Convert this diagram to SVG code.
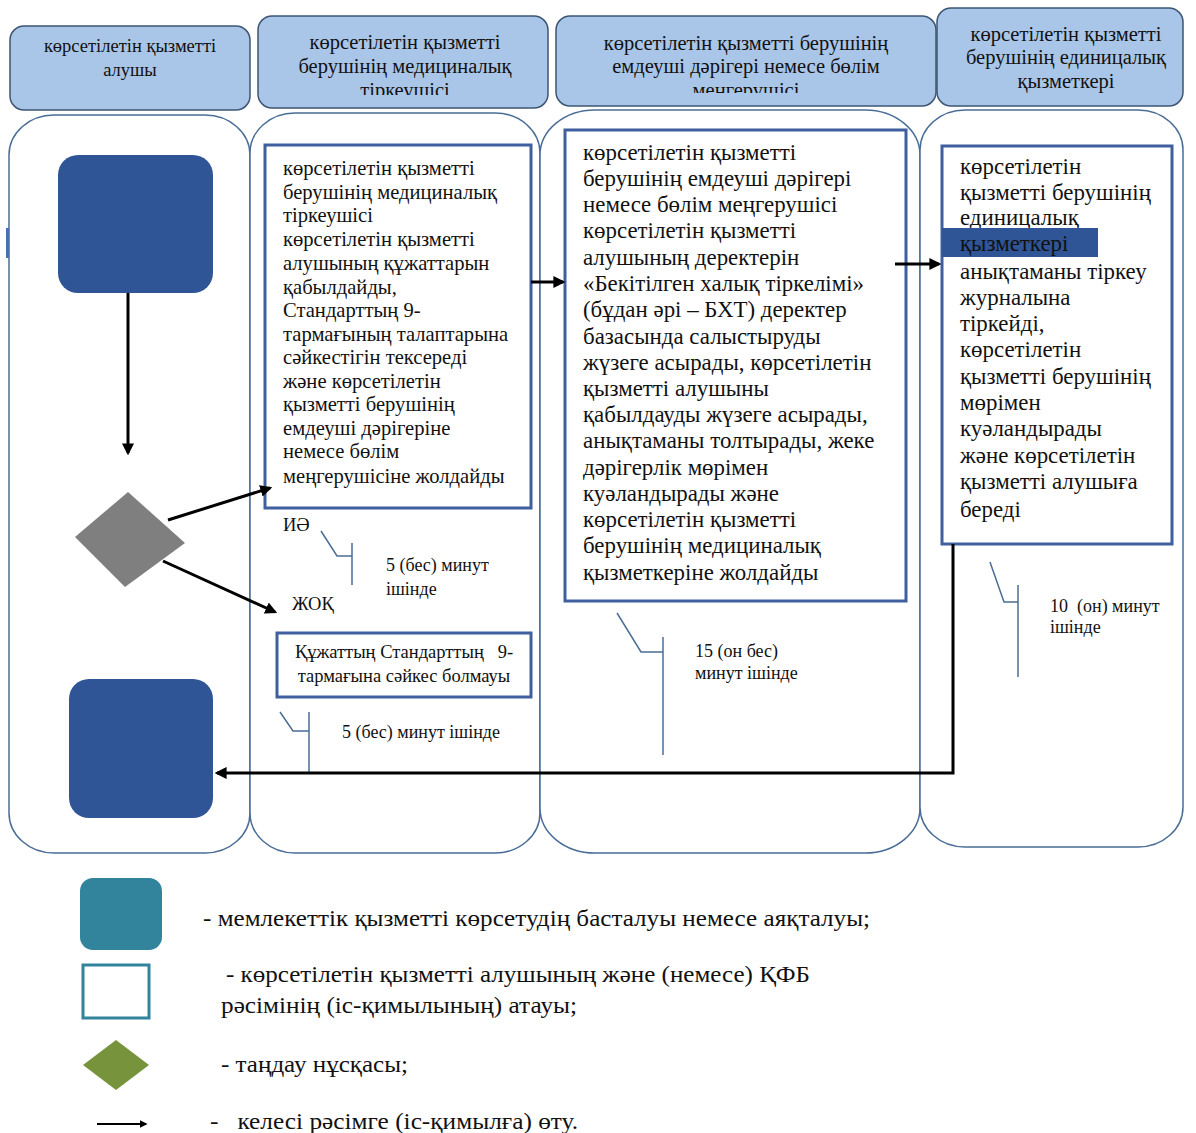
<svg xmlns="http://www.w3.org/2000/svg" width="1196" height="1133" viewBox="0 0 1196 1133">
<style>
  text { font-family: "Liberation Serif", "Times New Roman", serif; fill: #111; }
  .hdr { fill: #a9c6e8; stroke: #3d5573; stroke-width: 1.5; }
  .hdrt { font-size: 20.5px; text-anchor: middle; }
  .hdrt1 { font-size: 18.5px; text-anchor: middle; }
  .lane { fill: #fff; stroke: #4a6d96; stroke-width: 1.5; }
  .term { fill: #2f5597; }
  .box { fill: #fff; stroke: #3f5f9f; stroke-width: 3; }
  .ta { font-size: 20.6px; }
  .tb { font-size: 22.9px; }
  .tc { font-size: 22.9px; }
  .small { font-size: 18px; }
  .mid { font-size: 18.5px; }
  .call { fill: none; stroke: #4a6d96; stroke-width: 1.5; }
  .conn { fill: none; stroke: #000; stroke-width: 3; }
  .leg { font-size: 22.5px; }
</style>
<defs>
  <marker id="ah" markerWidth="4" markerHeight="4" refX="3.2" refY="2" orient="auto" markerUnits="strokeWidth">
    <path d="M0,0 L4,2 L0,4 Z" fill="#000"/>
  </marker>
  <clipPath id="c2"><rect x="258" y="16" width="290" height="79"/></clipPath>
  <clipPath id="c3"><rect x="556" y="16" width="380" height="77"/></clipPath>
</defs>

<!-- lanes -->
<g id="lanes">
  <rect class="lane" x="9" y="115" width="241" height="738" rx="45" ry="40"/>
  <rect class="lane" x="250" y="113" width="290" height="740" rx="45" ry="40"/>
  <rect class="lane" x="540" y="110" width="380" height="743" rx="55" ry="45"/>
  <rect class="lane" x="920" y="110" width="263" height="737" rx="45" ry="40"/>
  <rect x="6" y="228" width="3" height="30" fill="#4a6fb0"/>
</g>

<!-- headers -->
<g id="header1">
  <rect class="hdr" x="10" y="26" width="240" height="84" rx="14"/>
  <text class="hdrt1" x="130" y="52">көрсетілетін қызметті</text>
  <text class="hdrt1" x="130" y="76">алушы</text>
</g>
<g id="header2">
  <rect class="hdr" x="258" y="16" width="290" height="92" rx="14"/>
  <g clip-path="url(#c2)">
    <text class="hdrt" x="405" y="49">көрсетілетін қызметті</text>
    <text class="hdrt" x="405" y="73">берушінің медициналық</text>
    <text class="hdrt" x="405" y="97">тіркеушісі</text>
  </g>
</g>
<g id="header3">
  <rect class="hdr" x="556" y="16" width="380" height="90" rx="14"/>
  <g clip-path="url(#c3)">
    <text class="hdrt" x="746" y="50">көрсетілетін қызметті берушінің</text>
    <text class="hdrt" x="746" y="73">емдеуші дәрігері немесе бөлім</text>
    <text class="hdrt" x="746" y="97">меңгерушісі</text>
  </g>
</g>
<g id="header4">
  <rect class="hdr" x="937" y="8" width="246" height="98" rx="14"/>
  <text class="hdrt" x="1066" y="41">көрсетілетін қызметті</text>
  <text class="hdrt" x="1066" y="64">берушінің единицалық</text>
  <text class="hdrt" x="1066" y="88">қызметкері</text>
</g>

<!-- nodes -->
<g id="start">
  <rect class="term" x="58" y="155" width="155" height="138" rx="20"/>
</g>
<g id="decision">
  <polygon points="128,492 185,543 125,587 75,537" fill="#7f7f7f"/>
</g>
<g id="end">
  <rect class="term" x="69" y="679" width="144" height="139" rx="20"/>
</g>

<g id="boxA">
  <rect class="box" x="265" y="145" width="266" height="363"/>
  <g class="ta">
    <text x="283" y="175">көрсетілетін қызметті</text>
    <text x="283" y="199">берушінің медициналық</text>
    <text x="283" y="222">тіркеушісі</text>
    <text x="283" y="246">көрсетілетін қызметті</text>
    <text x="283" y="270">алушының құжаттарын</text>
    <text x="283" y="294">қабылдайды,</text>
    <text x="283" y="317">Стандарттың 9-</text>
    <text x="283" y="341">тармағының талаптарына</text>
    <text x="283" y="364">сәйкестігін тексереді</text>
    <text x="283" y="388">және көрсетілетін</text>
    <text x="283" y="411">қызметті берушінің</text>
    <text x="283" y="435">емдеуші дәрігеріне</text>
    <text x="283" y="458">немесе бөлім</text>
    <text x="283" y="483">меңгерушісіне жолдайды</text>
  </g>
</g>

<g id="boxB">
  <rect class="box" x="565" y="130" width="341" height="471"/>
  <g class="tb">
    <text x="583" y="160">көрсетілетін қызметті</text>
    <text x="583" y="186">берушінің емдеуші дәрігері</text>
    <text x="583" y="212">немесе бөлім меңгерушісі</text>
    <text x="583" y="238">көрсетілетін қызметті</text>
    <text x="583" y="265">алушының деректерін</text>
    <text x="583" y="291">«Бекітілген халық тіркелімі»</text>
    <text x="583" y="317">(бұдан әрі – БХТ) деректер</text>
    <text x="583" y="344">базасында салыстыруды</text>
    <text x="583" y="370">жүзеге асырады, көрсетілетін</text>
    <text x="583" y="396">қызметті алушыны</text>
    <text x="583" y="422">қабылдауды жүзеге асырады,</text>
    <text x="583" y="448">анықтаманы толтырады, жеке</text>
    <text x="583" y="475">дәрігерлік мөрімен</text>
    <text x="583" y="501">куәландырады және</text>
    <text x="583" y="527">көрсетілетін қызметті</text>
    <text x="583" y="553">берушінің медициналық</text>
    <text x="583" y="580">қызметкеріне жолдайды</text>
  </g>
</g>

<g id="boxC">
  <rect class="box" x="942" y="146" width="230" height="398"/>
  <g class="tc">
    <text x="960" y="174">көрсетілетін</text>
    <text x="960" y="200">қызметті берушінің</text>
    <text x="960" y="225">единицалық</text>
  </g>
  <rect x="942" y="228" width="156" height="29" fill="#2f5597"/>
  <g class="tc">
    <text x="960" y="251">қызметкері</text>
    <text x="960" y="279">анықтаманы тіркеу</text>
    <text x="960" y="305">журналына</text>
    <text x="960" y="331">тіркейді,</text>
    <text x="960" y="357">көрсетілетін</text>
    <text x="960" y="384">қызметті берушінің</text>
    <text x="960" y="410">мөрімен</text>
    <text x="960" y="436">куәландырады</text>
    <text x="960" y="463">және көрсетілетін</text>
    <text x="960" y="489">қызметті алушыға</text>
    <text x="960" y="517">береді</text>
  </g>
</g>

<g id="boxD">
  <rect class="box" x="277" y="633" width="254" height="64"/>
  <text class="mid" x="404" y="658" text-anchor="middle" xml:space="preserve">Құжаттың Стандарттың   9-</text>
  <text class="mid" x="404" y="682" text-anchor="middle">тармағына сәйкес болмауы</text>
</g>

<!-- labels and callouts -->
<g id="labels">
  <text class="mid" x="283" y="531">ИӘ</text>
  <text class="mid" x="292" y="610">ЖОҚ</text>
  <polyline class="call" points="321,531 337,556 352,556"/>
  <line class="call" x1="352" y1="543" x2="352" y2="585"/>
  <text class="small" x="386" y="571">5 (бес) минут</text>
  <text class="small" x="386" y="595">ішінде</text>

  <polyline class="call" points="280,712 293,731 309,731"/>
  <line class="call" x1="309" y1="712" x2="309" y2="773"/>
  <text class="small" x="342" y="738">5 (бес) минут ішінде</text>

  <polyline class="call" points="617,613 641,652 663,652"/>
  <line class="call" x1="663" y1="637" x2="663" y2="755"/>
  <text class="small" x="695" y="657">15 (он бес)</text>
  <text class="small" x="695" y="679">минут ішінде</text>

  <polyline class="call" points="990,562 1004,602 1018,602"/>
  <line class="call" x1="1018" y1="585" x2="1018" y2="677"/>
  <text class="small" x="1050" y="612" xml:space="preserve">10  (он) минут</text>
  <text class="small" x="1050" y="633">ішінде</text>
</g>

<!-- connectors -->
<g id="connectors">
  <line class="conn" x1="128" y1="293" x2="128" y2="453" marker-end="url(#ah)"/>
  <line class="conn" x1="168" y1="520" x2="270" y2="488" marker-end="url(#ah)"/>
  <line class="conn" x1="163" y1="561" x2="275" y2="612" marker-end="url(#ah)"/>
  <line class="conn" x1="531" y1="282" x2="563" y2="282" marker-end="url(#ah)"/>
  <line class="conn" x1="895" y1="264" x2="939" y2="264" marker-end="url(#ah)"/>
  <polyline class="conn" points="953,544 953,773 217,773" marker-end="url(#ah)"/>
</g>

<!-- legend -->
<g id="legend">
  <rect x="80" y="878" width="82" height="72" rx="13" fill="#31849b"/>
  <text class="leg" x="203" y="926" textLength="667" lengthAdjust="spacingAndGlyphs">- мемлекеттік қызметті көрсетудің басталуы немесе аяқталуы;</text>
  <rect x="83" y="965" width="66" height="53" fill="#fff" stroke="#31849b" stroke-width="3"/>
  <text class="leg" x="226" y="982" textLength="584" lengthAdjust="spacingAndGlyphs">- көрсетілетін қызметті алушының және (немесе) ҚФБ</text>
  <text class="leg" x="221" y="1013" textLength="356" lengthAdjust="spacingAndGlyphs">рәсімінің (іс-қимылының) атауы;</text>
  <polygon points="116,1040 149,1065 116,1090 83,1065" fill="#77933c"/>
  <text class="leg" x="221" y="1072" textLength="187" lengthAdjust="spacingAndGlyphs">- таңдау нұсқасы;</text>
  <line x1="97" y1="1124" x2="146" y2="1124" stroke="#000" stroke-width="2" marker-end="url(#ah)"/>
  <text class="leg" x="210" y="1129" textLength="368" lengthAdjust="spacingAndGlyphs" xml:space="preserve">-   келесі рәсімге (іс-қимылға) өту.</text>
</g>
</svg>
